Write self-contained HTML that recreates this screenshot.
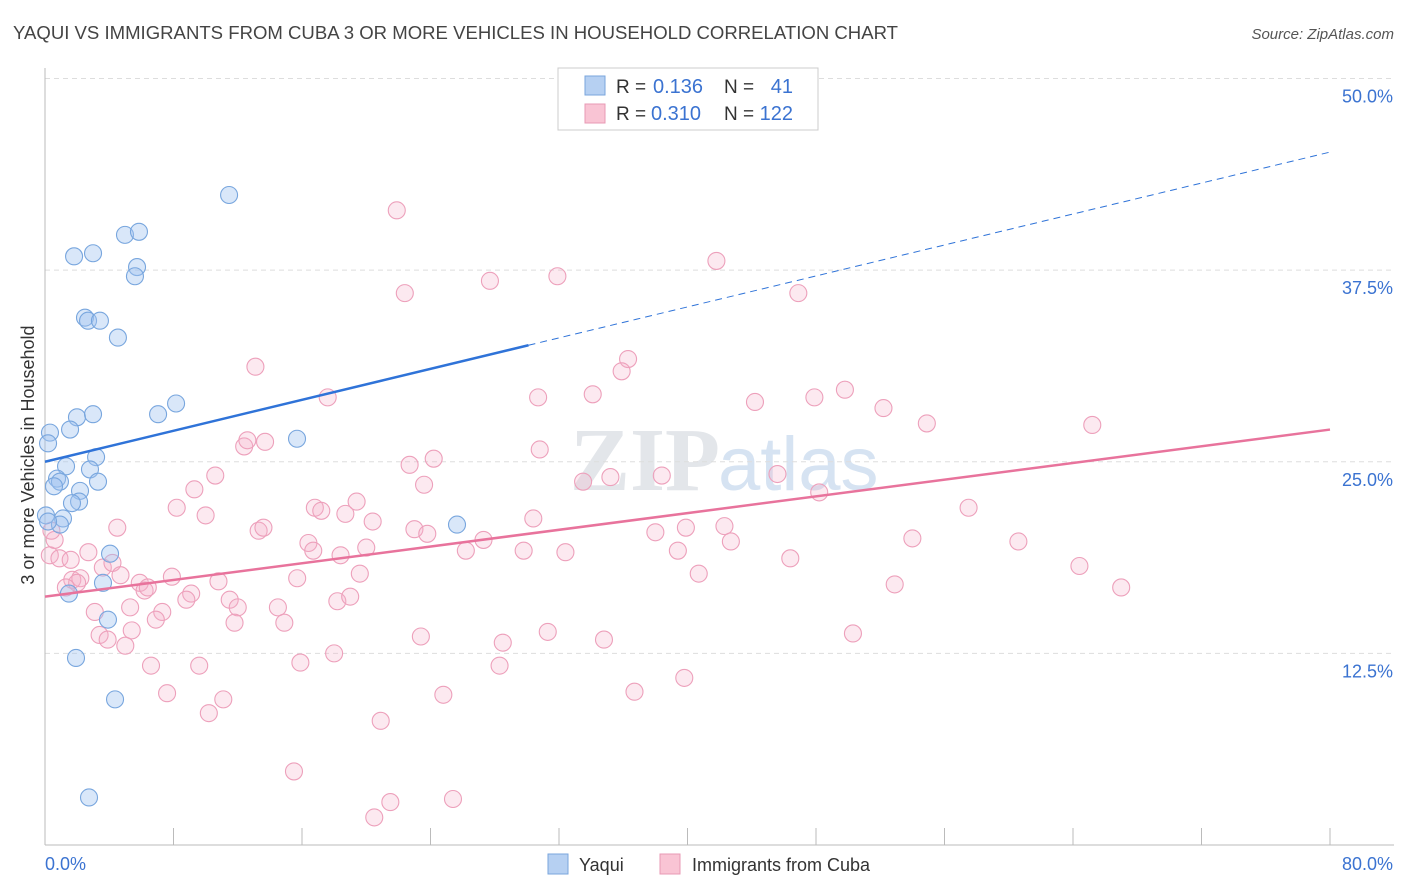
<!DOCTYPE html>
<html><head><meta charset="utf-8">
<style>
body{margin:0;background:#fff;font-family:"Liberation Sans",sans-serif;}
svg{display:block}
</style></head>
<body>
<svg id="chart" width="1406" height="892">
<text x="13" y="39" font-size="18" fill="#444" textLength="885" lengthAdjust="spacingAndGlyphs">YAQUI VS IMMIGRANTS FROM CUBA 3 OR MORE VEHICLES IN HOUSEHOLD CORRELATION CHART</text>
<text x="1394" y="39" font-size="15" fill="#555" text-anchor="end" font-style="italic">Source: ZipAtlas.com</text>
<text x="720" y="490" font-size="90" fill="#e3e6ea" text-anchor="end" font-family="Liberation Serif,serif" font-weight="bold">ZIP</text>
<text x="718" y="490" font-size="76" fill="#d6e3f2">atlas</text>
<g id="grid"></g>
<g id="axes"></g>
<g id="pts"></g>
<g id="lines"></g>
<text x="-455" y="34" transform="rotate(-90)" font-size="18" fill="#333" text-anchor="middle">3 or more Vehicles in Household</text>
<g>
<rect x="558" y="68" width="260" height="62" fill="#fff" stroke="#ccc"/>
<rect x="585" y="76" width="20" height="19" fill="#b6d0f2" stroke="#7aa6dc"/>
<rect x="585" y="104" width="20" height="19" fill="#f9c4d4" stroke="#e89ab4"/>
<text x="616" y="93" font-size="19" fill="#333">R =</text>
<text x="653" y="93" font-size="20" fill="#3b73d1">0.136</text>
<text x="724" y="93" font-size="19" fill="#333">N =</text>
<text x="793" y="93" font-size="20" fill="#3b73d1" text-anchor="end">41</text>
<text x="616" y="120" font-size="19" fill="#333">R =</text>
<text x="651" y="120" font-size="20" fill="#3b73d1">0.310</text>
<text x="724" y="120" font-size="19" fill="#333">N =</text>
<text x="793" y="120" font-size="20" fill="#3b73d1" text-anchor="end">122</text>
</g>
<g>
<rect x="548" y="854" width="20" height="20" fill="#b6d0f2" stroke="#7aa6dc"/>
<text x="579" y="871" font-size="18" fill="#333">Yaqui</text>
<rect x="660" y="854" width="20" height="20" fill="#f9c4d4" stroke="#e89ab4"/>
<text x="692" y="871" font-size="18" fill="#333">Immigrants from Cuba</text>
</g>
</svg>
<script>
const blueX=[11.46,4.98,5.85,1.81,2.99,5.73,5.60,2.49,2.68,3.42,4.54,8.16,7.04,1.99,2.99,1.56,0.31,0.19,15.69,3.18,1.31,2.80,0.75,0.93,0.56,3.30,2.18,2.12,1.68,1.12,0.93,0.06,25.65,4.05,3.61,1.49,3.92,1.93,4.36,2.74,0.19];
const blueY=[42.4,39.8,40.0,38.4,38.6,37.7,37.1,34.4,34.2,34.2,33.1,28.8,28.1,27.9,28.1,27.1,26.9,26.2,26.5,25.3,24.7,24.5,23.9,23.7,23.4,23.7,23.1,22.4,22.3,21.3,20.9,21.5,20.9,19.0,17.1,16.4,14.7,12.2,9.5,3.1,21.1];
const pinkX=[21.9,22.4,27.7,31.9,41.8,46.9,36.3,35.9,13.1,17.6,30.7,34.1,44.2,47.9,49.8,52.2,54.9,65.2,30.8,12.4,12.6,13.7,22.7,24.2,10.6,9.3,23.6,33.5,35.2,38.4,45.6,48.2,8.2,10.0,16.8,17.2,19.4,18.7,20.4,23.0,23.8,30.4,38.0,39.9,42.3,57.5,4.5,13.3,13.6,16.4,16.7,20.0,18.4,27.3,26.2,29.8,32.4,39.4,42.7,54.0,60.6,0.3,0.9,2.7,0.6,0.4,1.7,2.2,2.0,1.3,3.6,4.2,5.9,6.2,7.9,10.8,15.7,19.6,46.4,40.7,64.4,67.0,52.9,9.1,8.8,11.5,12.0,7.3,6.9,5.3,3.1,18.2,19.0,14.5,14.9,11.8,3.4,3.9,5.0,5.4,23.4,28.5,31.3,34.8,50.3,6.6,9.6,15.9,18.0,28.3,7.6,11.1,24.8,36.7,39.8,10.2,20.9,15.5,21.5,25.4,20.5,4.7,6.4,1.6];
const pinkY=[41.4,36.0,36.8,37.1,38.1,36.0,31.7,30.9,31.2,29.2,29.2,29.4,28.9,29.2,29.7,28.5,27.5,27.4,25.8,26.0,26.4,26.3,24.8,25.2,24.1,23.2,23.5,23.7,24.0,24.1,24.2,23.0,22.0,21.5,22.0,21.8,22.4,21.6,21.1,20.6,20.3,21.3,20.4,20.7,20.8,22.0,20.7,20.5,20.7,19.7,19.2,19.4,18.9,19.9,19.2,19.2,19.1,19.2,19.8,20.0,19.8,18.9,18.7,19.1,19.9,20.5,17.3,17.4,17.1,16.8,18.1,18.4,17.1,16.6,17.5,17.2,17.4,17.7,18.7,17.7,18.2,16.8,17.0,16.4,16.0,16.0,15.5,15.2,14.7,15.5,15.2,15.9,16.2,15.5,14.5,14.5,13.7,13.4,13.0,14.0,13.6,13.2,13.9,13.4,13.8,11.7,11.7,11.9,12.5,11.7,9.9,9.5,9.8,10.0,10.9,8.6,8.1,4.8,2.8,3.0,1.8,17.6,16.8,18.6];
const yTicks=[12.5,25.0,37.5,50.0];
const yTickLabels=["12.5%","25.0%","37.5%","50.0%"];
const xTicks=[0,8,16,24,32,40,48,56,64,72,80];
const blueTrend=[25.0,32.6,45.2];
const blueSolidEnd=30.1;
const pinkTrend=[16.2,27.1];

const X=v=>45+v*1285/80;
const Y=v=>845-v*15.33;
const NS="http://www.w3.org/2000/svg";
function mk(tag,attrs,parent){const e=document.createElementNS(NS,tag);for(const k in attrs)e.setAttribute(k,attrs[k]);parent.appendChild(e);return e;}
const grid=document.getElementById('grid'),axes=document.getElementById('axes'),pts=document.getElementById('pts'),lines=document.getElementById('lines');
yTicks.forEach((t,i)=>{
  const l=mk('line',{x1:45,x2:1394,y1:Y(t),y2:Y(t),stroke:'#ddd','stroke-dasharray':'5,4'},grid);
  
  
  const tx=mk('text',{x:1393,y:Y(t)+24,'font-size':18,fill:'#3b73d1','text-anchor':'end'},axes);
  tx.textContent=yTickLabels[i];
  
  
});
const ax=mk('line',{x1:45,x2:1394,y1:845,y2:845,stroke:'#bbb'},axes);


const ay=mk('line',{x1:45,x2:45,y1:68,y2:845,stroke:'#bbb'},axes);


xTicks.forEach(t=>{
  const l=mk('line',{x1:X(t),x2:X(t),y1:828,y2:845,stroke:'#bbb'},axes);
  
  
});
const x0=mk('text',{x:45,y:870,'font-size':18,fill:'#3b73d1'},axes);x0.textContent='0.0%';


const x1=mk('text',{x:1393,y:870,'font-size':18,fill:'#3b73d1','text-anchor':'end'},axes);x1.textContent='80.0%';


pinkX.forEach((v,i)=>{
  const c=mk('circle',{cx:X(v),cy:Y(pinkY[i]),r:8.5,fill:'rgba(246,176,200,0.28)',stroke:'#eda0bb','stroke-width':1.1},pts);
  
  
});
blueX.forEach((v,i)=>{
  const c=mk('circle',{cx:X(v),cy:Y(blueY[i]),r:8.5,fill:'rgba(160,196,240,0.4)',stroke:'#78a6de','stroke-width':1.1},pts);
  
  
});
const b1=mk('line',{x1:X(0),y1:Y(blueTrend[0]),x2:X(blueSolidEnd),y2:Y(blueTrend[1]),stroke:'#2f73d8','stroke-width':2.5},lines);


const b2=mk('line',{x1:X(blueSolidEnd),y1:Y(blueTrend[1]),x2:X(80),y2:Y(blueTrend[2]),stroke:'#2f73d8','stroke-width':1,'stroke-dasharray':'7,5'},lines);


const p1=mk('line',{x1:X(0),y1:Y(pinkTrend[0]),x2:X(80),y2:Y(pinkTrend[1]),stroke:'#e8739c','stroke-width':2.5},lines);


</script>
</body></html>
